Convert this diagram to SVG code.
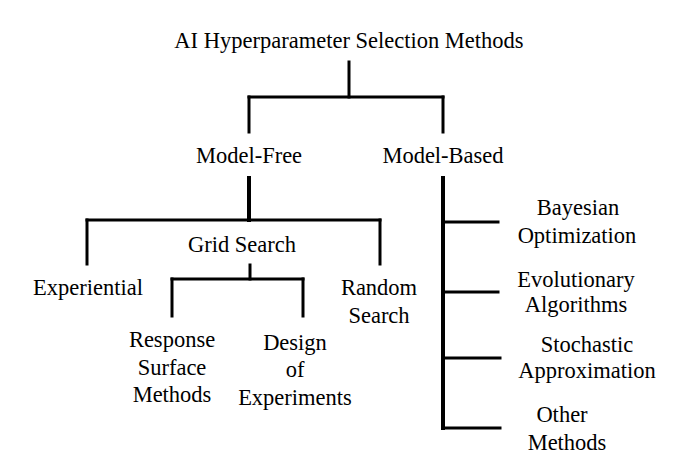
<svg xmlns="http://www.w3.org/2000/svg" width="679" height="460" viewBox="0 0 679 460">
<style>
text{font-size:22.5px;fill:#000;text-anchor:middle}
.c line{stroke:#000;stroke-width:3;stroke-linecap:square}
.c .t{stroke-width:4}
</style>
<rect width="679" height="460" fill="#fff"/>
<g class="c" id="connectors">
<line x1="349" y1="62" x2="349" y2="97"/>
<line x1="249" y1="97" x2="443" y2="97"/>
<line x1="249" y1="97" x2="249" y2="132"/>
<line x1="443" y1="97" x2="443" y2="132"/>
<line class="t" x1="249" y1="178" x2="249" y2="220"/>
<line x1="87" y1="220" x2="380" y2="220"/>
<line x1="87" y1="220" x2="87" y2="264"/>
<line x1="380" y1="220" x2="380" y2="264"/>
<line x1="250" y1="265" x2="250" y2="279"/>
<line x1="172" y1="279" x2="303" y2="279"/>
<line x1="172" y1="279" x2="172" y2="316"/>
<line x1="303" y1="279" x2="303" y2="316"/>
<line class="t" x1="443" y1="178" x2="443" y2="428"/>
<line x1="443" y1="222" x2="498" y2="222"/>
<line x1="443" y1="292" x2="498" y2="292"/>
<line x1="443" y1="358" x2="500" y2="358"/>
<line x1="443" y1="428" x2="500" y2="428"/>
</g>
<g font-family="'Liberation Serif', 'DejaVu Serif', serif">
<g id="root"><text x="349" y="48">AI Hyperparameter Selection Methods</text></g>
<g id="model-free"><text x="249" y="163">Model-Free</text></g>
<g id="model-based"><text x="443" y="163">Model-Based</text></g>
<g id="grid-search"><text x="242" y="252">Grid Search</text></g>
<g id="experiential"><text x="88" y="295">Experiential</text></g>
<g id="random-search"><text x="379" y="295">Random</text><text x="379" y="323">Search</text></g>
<g id="rsm"><text x="172" y="347">Response</text><text x="172" y="375">Surface</text><text x="172" y="402">Methods</text></g>
<g id="doe"><text x="295" y="350">Design</text><text x="295" y="377">of</text><text x="295" y="405">Experiments</text></g>
<g id="bayesian"><text x="578" y="215">Bayesian</text><text x="577" y="243">Optimization</text></g>
<g id="evolutionary"><text x="576" y="287">Evolutionary</text><text x="576" y="312">Algorithms</text></g>
<g id="stochastic"><text x="587" y="352">Stochastic</text><text x="587" y="378">Approximation</text></g>
<g id="other"><text x="562" y="422">Other</text><text x="567" y="450">Methods</text></g>
</g>
</svg>
